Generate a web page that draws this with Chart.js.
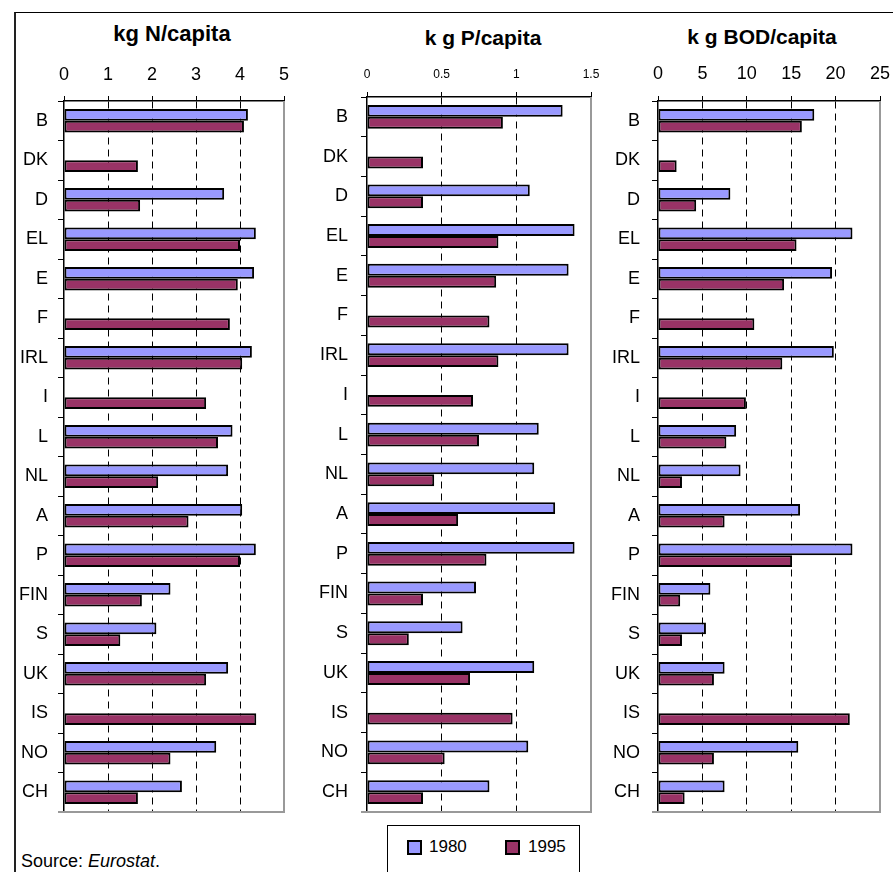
<!DOCTYPE html>
<html>
<head>
<meta charset="utf-8">
<script src="https://cdn.jsdelivr.net/npm/chart.js@4.4.1/dist/chart.umd.min.js"></script>
<style>
  html, body { margin: 0; padding: 0; background: #fff; }
  body { width: 893px; height: 872px; position: relative; overflow: hidden; font-family: "Liberation Sans", Arial, sans-serif; color: #000; }
  #frame { position: absolute; left: 14px; top: 12px; width: 900px; height: 900px; border-left: 2px solid #222; border-top: 1px solid #000; box-sizing: border-box; }
  canvas { position: absolute; }
  .title { position: absolute; width: 220px; text-align: center; font-weight: bold; line-height: 1; white-space: nowrap; }
  #legend { position: absolute; left: 387px; top: 825px; width: 193px; height: 60px; border: 1px solid #000; box-sizing: border-box; }
  .sw { position: absolute; width: 15px; height: 15px; border: 2px solid #000; box-sizing: border-box; }
  .lt { position: absolute; font-size: 17px; line-height: 1; }
  #source { position: absolute; left: 21px; top: 852px; font-size: 18px; line-height: 1; white-space: nowrap; }
</style>
</head>
<body>
<div id="frame"></div>
<div class="title" style="left:62px; top:23px; font-size:22px;">kg N/capita</div>
<div class="title" style="left:373px; top:27px; font-size:21px;">k g P/capita</div>
<div class="title" style="left:652px; top:25.5px; font-size:21px;">k g BOD/capita</div>

<canvas id="cN" width="285" height="809" style="left:15px; top:13px; width:285px; height:809px;"></canvas>
<canvas id="cP" width="310" height="809" style="left:300px; top:13px; width:310px; height:809px;"></canvas>
<canvas id="cB" width="300" height="809" style="left:593px; top:13px; width:300px; height:809px;"></canvas>

<div id="legend">
  <div class="sw" style="left:19px; top:14px; background:#9999FF;"></div>
  <div class="lt" style="left:41px; top:12px;">1980</div>
  <div class="sw" style="left:117px; top:14px; background:#993366;"></div>
  <div class="lt" style="left:140px; top:12px;">1995</div>
</div>
<div id="source">Source: <i>Eurostat</i>.</div>

<script>
const countries = ['B','DK','D','EL','E','F','IRL','I','L','NL','A','P','FIN','S','UK','IS','NO','CH'];
const seriesNames = ['1980', '1995'];

const nitrogen1980 = [4.18, null, 3.64, 4.36, 4.32, null, 4.27, null, 3.83, 3.73, 4.05, 4.36, 2.42, 2.10, 3.73, null, 3.46, 2.68];
const nitrogen1995 = [4.09, 1.68, 1.73, 4.00, 3.95, 3.77, 4.05, 3.23, 3.50, 2.14, 2.83, 4.00, 1.77, 1.28, 3.23, 4.37, 2.42, 1.68];

const phosphorus1980 = [1.31, null, 1.09, 1.39, 1.35, null, 1.35, null, 1.15, 1.12, 1.26, 1.39, 0.73, 0.64, 1.12, null, 1.08, 0.82];
const phosphorus1995 = [0.91, 0.375, 0.375, 0.88, 0.865, 0.82, 0.88, 0.71, 0.75, 0.45, 0.61, 0.80, 0.375, 0.28, 0.69, 0.975, 0.52, 0.375];

const bod1980 = [17.6, null, 8.15, 21.9, 19.6, null, 19.8, null, 8.8, 9.3, 16.0, 21.9, 5.9, 5.4, 7.5, null, 15.8, 7.5];
const bod1995 = [16.2, 2.1, 4.3, 15.6, 14.2, 10.85, 14.0, 9.9, 7.7, 2.7, 7.5, 15.1, 2.5, 2.7, 6.3, 21.6, 6.3, 3.0];

const nTicks = { max: 5, step: 1 };
const pTicks = { max: 1.5, step: 0.5 };
const bTicks = { max: 25, step: 5 };

const plotFrame = {
  id: 'plotFrame',
  beforeDatasetsDraw(chart) {
    const { ctx, chartArea: a } = chart;
    ctx.save();
    ctx.strokeStyle = '#999';
    ctx.lineWidth = 2;
    ctx.beginPath();
    ctx.moveTo(a.right, a.top);
    ctx.lineTo(a.right, a.bottom);
    ctx.lineTo(a.left - 6, a.bottom);
    ctx.stroke();
    ctx.restore();
  }
};

function makePanel(id, v80, v95, tk, cfg) {
  new Chart(document.getElementById(id), {
    type: 'bar',
    data: {
      labels: countries,
      datasets: [
        { label: seriesNames[0], data: v80, backgroundColor: '#9999FF', borderColor: '#000', borderWidth: 2, borderSkipped: false },
        { label: seriesNames[1], data: v95, backgroundColor: '#993366', borderColor: '#000', borderWidth: 2, borderSkipped: false }
      ]
    },
    options: {
      indexAxis: 'y',
      responsive: false,
      animation: false,
      devicePixelRatio: 1,
      layout: { padding: { left: 0, top: 0, right: cfg.padRight, bottom: cfg.padBottom } },
      plugins: { legend: { display: false }, tooltip: { enabled: false }, title: { display: false } },
      datasets: { bar: { categoryPercentage: 0.6, barPercentage: 1.0 } },
      scales: {
        x: {
          position: 'top',
          min: 0,
          max: tk.max,
          ticks: {
            stepSize: tk.step,
            color: '#000',
            padding: cfg.xPad,
            font: { family: '"Liberation Sans", Arial, sans-serif', size: cfg.tickSize },
            callback: (v) => String(Math.round(v * 100) / 100)
          },
          grid: {
            color: (c) => (c.tick && (c.tick.value === 0 || c.tick.value === tk.max)) ? 'rgba(0,0,0,0)' : '#000',
            lineWidth: 1,
            tickColor: '#000',
            tickLength: 5,
            tickWidth: 1,
            tickBorderDash: []
          },
          border: { display: true, color: '#000', width: 1.5, dash: [7, 5] },
          afterFit: (s) => { s.height = cfg.top; s.paddingLeft = 0; s.paddingRight = 0; }
        },
        y: {
          ticks: {
            color: '#000',
            padding: cfg.yPad,
            font: { family: '"Liberation Sans", Arial, sans-serif', size: 18 }
          },
          grid: { drawOnChartArea: false, offset: true, tickColor: '#000', tickLength: 6, tickWidth: 1 },
          border: { display: true, color: '#000', width: 1.5 },
          afterFit: (s) => { s.width = cfg.left; s.paddingTop = 0; s.paddingBottom = 0; }
        }
      }
    },
    plugins: [plotFrame]
  });
}

makePanel('cN', nitrogen1980, nitrogen1995, nTicks, { left: 49, top: 88, padRight: 16, padBottom: 10, xPad: 10, yPad: 10, tickSize: 18 });
makePanel('cP', phosphorus1980, phosphorus1995, pTicks, { left: 67, top: 84, padRight: 19, padBottom: 10, xPad: 10, yPad: 13, tickSize: 12 });
makePanel('cB', bod1980, bod1995, bTicks, { left: 65, top: 88, padRight: 13, padBottom: 10, xPad: 11, yPad: 12, tickSize: 18 });
</script>
</body>
</html>
